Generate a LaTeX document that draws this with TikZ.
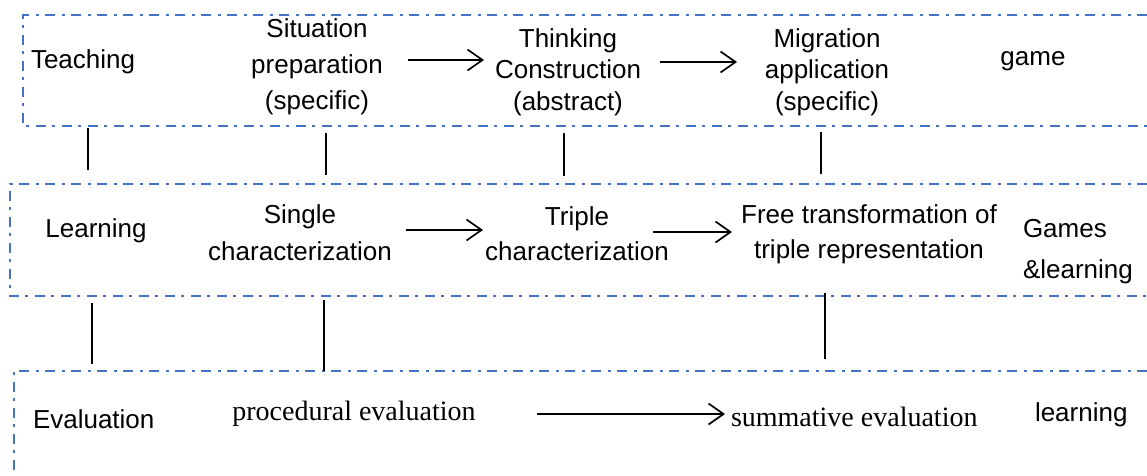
\documentclass[tikz,border=0pt]{standalone}
\usepackage{fontspec}
\setmainfont{Liberation Sans}
\newfontfamily\serifface{Liberation Serif}
\usetikzlibrary{arrows.meta}
\definecolor{boxblue}{RGB}{68,114,196}
\tikzset{
  lbl/.style={inner sep=0pt, outer sep=0pt, align=center, font=\fontsize{26}{35}\selectfont},
  lblser/.style={inner sep=0pt, outer sep=0pt, font=\serifface\fontsize{28}{34}\selectfont},
  framebox/.style={draw=boxblue, line width=1.5pt, dash pattern=on 10pt off 6pt on 3pt off 7pt},
  conn/.style={draw=black, line width=1.7pt},
  arr/.style={conn, -{Straight Barb[length=15pt,width=21pt]}}
}
\begin{document}
\begin{tikzpicture}[x=1pt,y=-1pt]
\useasboundingbox (0,0) rectangle (1147,475);
% frames
\draw[framebox] (1147,15) -- (23,15) -- (23,126) -- (1147,126);
\draw[framebox] (1147,184) -- (10,184) -- (10,296) -- (1147,296);
\draw[framebox] (1147,371) -- (14,371) -- (14,475);
% row 1 (multi-line nodes: base anchor = baseline of last line)
\node[lbl, anchor=base west] (teach) at (31,68) {Teaching};
\node[lbl, anchor=base, font=\fontsize{26}{36}\selectfont] (sit) at (317,109) {Situation\\preparation\\(specific)};
\node[lbl, anchor=base, font=\fontsize{26}{31.5}\selectfont] (think) at (568,110) {Thinking\\Construction\\(abstract)};
\node[lbl, anchor=base, font=\fontsize{26}{31.5}\selectfont] (mig) at (827,110) {Migration\\application\\(specific)};
\node[lbl, anchor=base] (game) at (1033,65) {game};
% row 2
\node[lbl, anchor=base] (learn) at (96,237) {Learning};
\node[lbl, anchor=base, font=\fontsize{26}{37}\selectfont] (single) at (300,260) {Single\\characterization};
\node[lbl, anchor=base] (triple) at (577,260) {Triple\\characterization};
\node[lbl, anchor=base] (free) at (869,258) {Free transformation of\\triple representation};
\node[lbl, anchor=base west, align=left, font=\fontsize{26}{41}\selectfont] (games) at (1023,278) {Games\\\&learning};
% row 3
\node[lbl, anchor=base west] (eval) at (33,428) {Evaluation};
\node[lblser, anchor=base] (proc) at (354,420) {procedural evaluation};
\node[lblser, anchor=base west] (summ) at (731,426) {summative evaluation};
\node[lbl, anchor=base west] (learn2) at (1035,421) {learning};
% arrows
\coordinate (a1s) at (408,60); \coordinate (a1e) at (484,60);
\coordinate (a2s) at (660,62); \coordinate (a2e) at (737,62);
\coordinate (a3s) at (406,230); \coordinate (a3e) at (483,230);
\coordinate (a4s) at (653,232); \coordinate (a4e) at (732,232);
\coordinate (a5s) at (537,414); \coordinate (a5e) at (725,414);
\draw[arr] (a1s) -- (a1e);
\draw[arr] (a2s) -- (a2e);
\draw[arr] (a3s) -- (a3e);
\draw[arr] (a4s) -- (a4e);
\draw[arr] (a5s) -- (a5e);
% vertical connectors
\coordinate (v1a) at (88,128);  \coordinate (v1b) at (88,170);
\coordinate (v2a) at (326,133); \coordinate (v2b) at (326,175);
\coordinate (v3a) at (564,133); \coordinate (v3b) at (564,176);
\coordinate (v4a) at (821,132); \coordinate (v4b) at (821,174);
\coordinate (v5a) at (92,303);  \coordinate (v5b) at (92,364);
\coordinate (v6a) at (324,300); \coordinate (v6b) at (324,371);
\coordinate (v7a) at (825,293); \coordinate (v7b) at (825,359);
\draw[conn] (v1a) -- (v1b);
\draw[conn] (v2a) -- (v2b);
\draw[conn] (v3a) -- (v3b);
\draw[conn] (v4a) -- (v4b);
\draw[conn] (v5a) -- (v5b);
\draw[conn] (v6a) -- (v6b);
\draw[conn] (v7a) -- (v7b);
\end{tikzpicture}
\end{document}
